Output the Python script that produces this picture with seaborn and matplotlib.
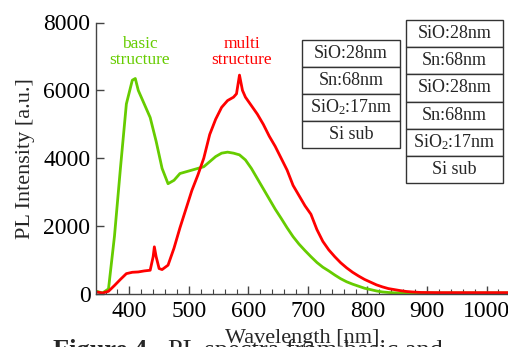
import pandas as pd
import matplotlib
matplotlib.use("Agg")
import matplotlib.pyplot as plt
import seaborn as sns

# ================= data =================
basic_nm = [345, 355, 365, 375, 385, 395, 405, 410, 415, 425, 435, 445, 455, 465,
            475, 485, 495, 505, 515, 525, 535, 545, 555, 565, 575, 585, 595, 605,
            615, 625, 635, 645, 655, 665, 675, 685, 695, 705, 715, 725, 735, 745,
            755, 765, 775, 785, 795, 805, 815, 825, 835, 845, 870, 900, 950, 1000, 1040]
basic_int = [80, 30, 150, 1700, 3700, 5600, 6300, 6350, 6000, 5600, 5200, 4500, 3700, 3250,
             3350, 3550, 3600, 3650, 3700, 3750, 3900, 4050, 4150, 4180, 4150, 4100, 3950, 3700,
             3400, 3100, 2800, 2500, 2230, 1950, 1690, 1470, 1280, 1100, 930, 790, 680, 560,
             450, 360, 290, 230, 170, 130, 90, 60, 45, 35, 30, 30, 30, 30, 30]

multi_nm = [345, 355, 365, 375, 385, 395, 405, 415, 425, 435, 440, 442, 445, 450, 455,
            465, 475, 485, 495, 505, 515, 525, 535, 545, 555, 565, 575, 580, 585, 590,
            595, 605, 615, 625, 635, 645, 655, 665, 675, 685, 695, 705, 715, 725, 735,
            745, 755, 765, 775, 785, 795, 805, 815, 825, 835, 845, 855, 865, 875, 890,
            920, 960, 1000, 1040]
multi_int = [60, 30, 80, 250, 430, 600, 640, 650, 680, 700, 1100, 1390, 1100, 750, 720,
             850, 1350, 1950, 2500, 3050, 3500, 4000, 4700, 5150, 5500, 5700, 5800, 5900, 6450, 6000,
             5800, 5550, 5300, 5000, 4650, 4350, 4000, 3650, 3200, 2900, 2600, 2350, 1900, 1550, 1300,
             1100, 920, 770, 640, 530, 430, 350, 270, 210, 160, 130, 100, 75, 60, 45,
             40, 40, 40, 40]

labels = ["basic structure", "multi structure"]
colors = ["#66cc00", "#ff0000"]

basic_layers = ["SiO:28nm", "Sn:68nm", "SiO$_2$:17nm", "Si sub"]
multi_layers = ["SiO:28nm", "Sn:68nm", "SiO:28nm", "Sn:68nm", "SiO$_2$:17nm", "Si sub"]

x_ticks = [400, 500, 600, 700, 800, 900, 1000]
y_ticks = [0, 2000, 4000, 6000, 8000]

# ================= plot =================
df = pd.concat([
    pd.DataFrame({"Wavelength": basic_nm, "PL": basic_int, "Sample": labels[0]}),
    pd.DataFrame({"Wavelength": multi_nm, "PL": multi_int, "Sample": labels[1]}),
])

sns.set_theme(style="ticks")
plt.rcParams["font.family"] = ["Liberation Serif", "DejaVu Serif"]
plt.rcParams["mathtext.fontset"] = "custom"
plt.rcParams["mathtext.rm"] = "Liberation Serif"
plt.rcParams["mathtext.it"] = "Liberation Serif:italic"

W, H = 508, 347
fig = plt.figure(figsize=(W / 100, H / 100), dpi=100)
ax = fig.add_axes([96 / W, 1 - 294 / H, 1 - 96 / W, (294 - 22.5) / H])

sns.lineplot(data=df, x="Wavelength", y="PL", hue="Sample", palette=colors,
             estimator=None, sort=True, linewidth=2.0, legend=False, ax=ax)

ax.set_xlim(344, 1036)
ax.set_ylim(0, 8000)
ax.set_xticks(x_ticks)
ax.set_xticks(range(360, 1040, 20), minor=True)
ax.set_yticks(y_ticks)
ax.tick_params(axis="both", which="major", direction="in", length=6, width=1,
               color="#444444", labelsize=17, labelcolor="black")
ax.tick_params(axis="x", which="minor", direction="in", length=3.5, width=0.8, color="#444444")
ax.tick_params(axis="x", pad=5)
ax.tick_params(axis="y", pad=4)
for s in ["top", "right"]:
    ax.spines[s].set_visible(False)
for s in ["left", "bottom"]:
    ax.spines[s].set_color("#444444")
    ax.spines[s].set_linewidth(1)
ax.set_xlabel("")
ax.set_ylabel("PL Intensity [a.u.]", fontsize=16, labelpad=6)

# curve labels
ax.text(140 / W, 1 - 52 / H, "basic\nstructure", transform=fig.transFigure, color=colors[0],
        fontsize=12.5, ha="center", va="center", linespacing=1.0)
ax.text(242 / W, 1 - 52 / H, "multi\nstructure", transform=fig.transFigure, color=colors[1],
        fontsize=12.5, ha="center", va="center", linespacing=1.0)


def layer_table(rect, rows):
    tax = fig.add_axes(rect)
    tax.axis("off")
    tb = tax.table(cellText=[[r] for r in rows], cellLoc="center", bbox=[0, 0, 1, 1])
    tb.auto_set_font_size(False)
    for cell in tb.get_celld().values():
        cell.set_edgecolor("#333333")
        cell.set_linewidth(1)
        cell.set_facecolor("white")
        cell.get_text().set_fontsize(13)
    return tax


layer_table([302 / W, 1 - 148 / H, 98 / W, 108 / H], basic_layers)
layer_table([406 / W, 1 - 183 / H, 97 / W, 163 / H], multi_layers)

# x label and (cropped) caption
fig.text(302 / W, 1 - 343 / H, "Wavelength [nm]", fontsize=16, ha="center", va="baseline")
fig.text(53 / W, 1 - 357 / H, "Figure 4.", fontsize=19, fontweight="bold", ha="left", va="baseline")
fig.text(168 / W, 1 - 357 / H, "PL spectra from basic and", fontsize=19, ha="left", va="baseline")

fig.savefig("out.png", dpi=100)
